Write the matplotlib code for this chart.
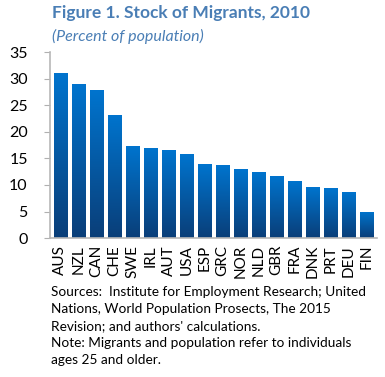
import numpy as np
import matplotlib
matplotlib.use("Agg")
import matplotlib.pyplot as plt
from matplotlib.colors import LinearSegmentedColormap

countries = ["AUS", "NZL", "CAN", "CHE", "SWE", "IRL", "AUT", "USA", "ESP",
             "GRC", "NOR", "NLD", "GBR", "FRA", "DNK", "PRT", "DEU", "FIN"]
migrants = [31.2, 29.0, 27.9, 23.3, 17.3, 17.0, 16.6, 15.8, 13.9,
            13.7, 13.0, 12.4, 11.7, 10.7, 9.6, 9.4, 8.6, 5.0]
yticks = [0, 5, 10, 15, 20, 25, 30, 35]

title = "Figure 1. Stock of Migrants, 2010"
subtitle = "(Percent of population)"
notes = ("Sources:  Institute for Employment Research; United\n"
         "Nations, World Population Prosects, The 2015\n"
         "Revision; and authors' calculations.\n"
         "Note: Migrants and population refer to individuals\n"
         "ages 25 and older.")

plt.rcParams["font.family"] = ["Lato", "DejaVu Sans"]

fig = plt.figure(figsize=(3.85, 3.77), dpi=100)
W, H = 385, 377
ax = fig.add_axes([50 / W, 1 - 238 / H, 327 / W, (238 - 52.5) / H])

x = np.arange(len(countries))
bars = ax.bar(x, migrants, width=0.74, color="none", edgecolor="none", zorder=2)

# vertical gradient: light blue at top, dark navy at bottom
cmap = LinearSegmentedColormap.from_list("bluegrad", ["#0A3E78", "#0074CE"])
grad = np.linspace(0, 1, 256).reshape(-1, 1)
for b in bars:
    x0, w, h = b.get_x(), b.get_width(), b.get_height()
    im = ax.imshow(grad, cmap=cmap, origin="lower", aspect="auto",
                   extent=[x0, x0 + w, 0, h], zorder=2)
    im.set_clip_path(b)

ax.set_xlim(-0.57, len(countries) - 0.44)
ax.set_ylim(0, 35)
ax.set_yticks(yticks)
ax.set_yticklabels([str(v) for v in yticks], fontsize=11.5)
ax.set_xticks(x)
ax.set_xticklabels(countries, rotation=90, fontsize=11)
ax.tick_params(axis="x", length=0, pad=5)
ax.tick_params(axis="y", length=4, color="#B0B0B0", pad=12)
for s in ["top", "right"]:
    ax.spines[s].set_visible(False)
for s in ["left", "bottom"]:
    ax.spines[s].set_color("#B8B8B8")
    ax.spines[s].set_linewidth(1.2)

fig.text(52 / W, 1 - 13 / H, title, fontsize=12.5, fontweight="bold",
         color="#4A7EB5", va="center", ha="left")
fig.text(52 / W, 1 - 36 / H, subtitle, fontsize=11.5, style="italic",
         color="#4A7EB5", va="center", ha="left")
fig.text(51 / W, 1 - 286 / H, notes, fontsize=9.8, va="top", ha="left",
         linespacing=1.5)

fig.savefig("out.png", dpi=100)
